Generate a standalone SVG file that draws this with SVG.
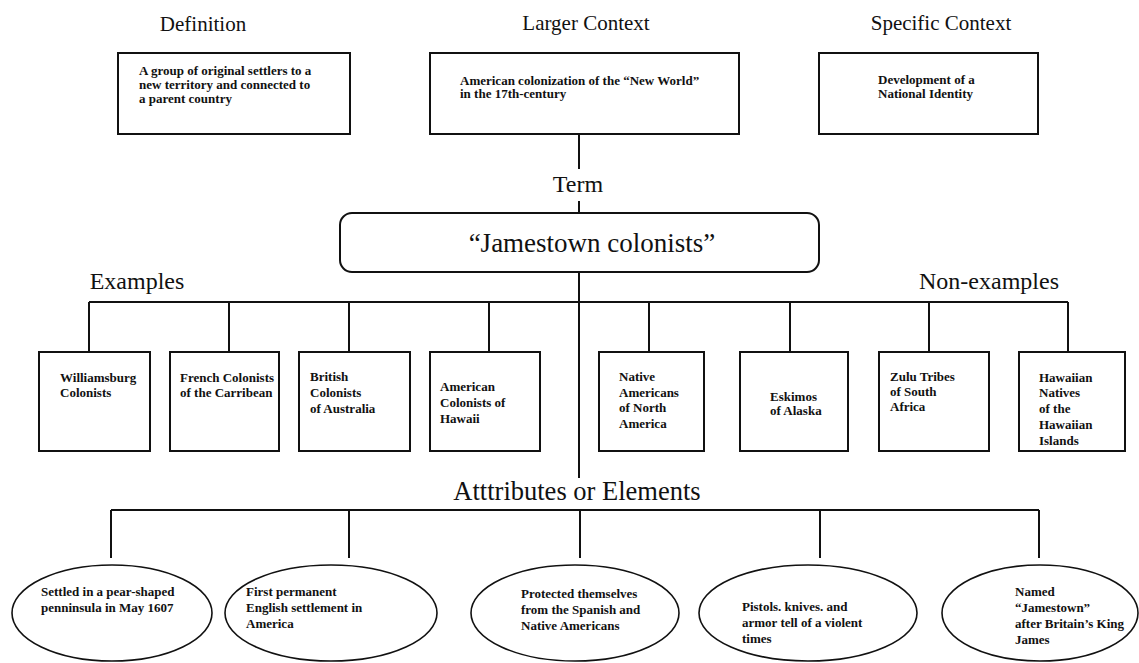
<svg xmlns="http://www.w3.org/2000/svg" width="1139" height="663" viewBox="0 0 1139 663">
<style>
.h{font-family:"Liberation Serif","Times New Roman",serif;fill:#111;text-anchor:middle}
.s{font-family:"Liberation Serif","Times New Roman",serif;font-weight:bold;font-size:13px;fill:#111}
.box{fill:#fff;stroke:#111;stroke-width:2}
.ell{fill:#fff;stroke:#111;stroke-width:1.6}
.ln{fill:none;stroke:#111;stroke-width:2}
</style>
<rect width="1139" height="663" fill="#fff"/>
<g id="connectors">
<path class="ln" d="M579 134V169M579 201V213M579 272V478M89 302H1068M89 302V352M229 302V352M349 302V352M489 302V352M649 302V352M790 302V352M929 302V352M1068 302V352M111 510H1039M111 510V558M349 510V558M580 510V558M820 510V558M1039 510V558"/>
</g>
<g id="labels">
<text class="h" x="203" y="31" font-size="21">Definition</text>
<text class="h" x="586" y="30" font-size="21">Larger Context</text>
<text class="h" x="941" y="30" font-size="21">Specific Context</text>
<text class="h" x="578" y="192" font-size="24">Term</text>
<text class="h" x="137" y="289" font-size="24">Examples</text>
<text class="h" x="989" y="289" font-size="24">Non-examples</text>
<text class="h" x="577" y="500" font-size="26.5">Atttributes or Elements</text>
</g>
<g id="definition">
<rect class="box" x="118" y="53" width="232" height="81"/>
<text class="s" x="139" y="75">A group of original settlers to a</text>
<text class="s" x="139" y="89">new territory and connected to</text>
<text class="s" x="139" y="103">a parent country</text>
</g>
<g id="larger-context">
<rect class="box" x="430" y="53" width="309" height="81"/>
<text class="s" x="460" y="85">American colonization of the “New World”</text>
<text class="s" x="460" y="98">in the 17th-century</text>
</g>
<g id="specific-context">
<rect class="box" x="819" y="53" width="219" height="81"/>
<text class="s" x="878" y="84">Development of a</text>
<text class="s" x="878" y="98">National Identity</text>
</g>
<g id="term">
<rect class="box" x="340" y="213" width="479" height="59" rx="12"/>
<text class="h" x="592" y="252" font-size="27">“Jamestown colonists”</text>
</g>
<g id="ex1"><rect class="box" x="39" y="352" width="111" height="99"/>
<text class="s" x="60" y="382">Williamsburg</text><text class="s" x="60" y="397">Colonists</text></g>
<g id="ex2"><rect class="box" x="170" y="352" width="109" height="99"/>
<text class="s" x="180" y="382">French Colonists</text><text class="s" x="180" y="397">of the Carribean</text></g>
<g id="ex3"><rect class="box" x="299" y="352" width="111" height="99"/>
<text class="s" x="310" y="381">British</text><text class="s" x="310" y="397">Colonists</text><text class="s" x="310" y="413">of Australia</text></g>
<g id="ex4"><rect class="box" x="430" y="352" width="110" height="99"/>
<text class="s" x="440" y="391">American</text><text class="s" x="440" y="407">Colonists of</text><text class="s" x="440" y="423">Hawaii</text></g>
<g id="nex1"><rect class="box" x="599" y="352" width="105" height="99"/>
<text class="s" x="619" y="381">Native</text><text class="s" x="619" y="397">Americans</text><text class="s" x="619" y="412">of North</text><text class="s" x="619" y="428">America</text></g>
<g id="nex2"><rect class="box" x="740" y="352" width="108" height="99"/>
<text class="s" x="770" y="401">Eskimos</text><text class="s" x="770" y="415">of Alaska</text></g>
<g id="nex3"><rect class="box" x="879" y="352" width="110" height="99"/>
<text class="s" x="890" y="381">Zulu Tribes</text><text class="s" x="890" y="396">of South</text><text class="s" x="890" y="411">Africa</text></g>
<g id="nex4"><rect class="box" x="1019" y="352" width="106" height="99"/>
<text class="s" x="1039" y="382">Hawaiian</text><text class="s" x="1039" y="397">Natives</text><text class="s" x="1039" y="413">of the</text><text class="s" x="1039" y="429">Hawaiian</text><text class="s" x="1039" y="445">Islands</text></g>
<g id="attr1"><ellipse class="ell" cx="112" cy="613" rx="100" ry="48"/>
<text class="s" x="41" y="596">Settled in a pear-shaped</text><text class="s" x="41" y="612">penninsula in May 1607</text></g>
<g id="attr2"><ellipse class="ell" cx="331" cy="613" rx="106" ry="48"/>
<text class="s" x="246" y="596">First permanent</text><text class="s" x="246" y="612">English settlement in</text><text class="s" x="246" y="628">America</text></g>
<g id="attr3"><ellipse class="ell" cx="575" cy="613" rx="104" ry="48"/>
<text class="s" x="521" y="598">Protected themselves</text><text class="s" x="521" y="614">from the Spanish and</text><text class="s" x="521" y="630">Native Americans</text></g>
<g id="attr4"><ellipse class="ell" cx="808" cy="613" rx="109" ry="48"/>
<text class="s" x="742" y="611">Pistols. knives. and</text><text class="s" x="742" y="627">armor tell of a violent</text><text class="s" x="742" y="643">times</text></g>
<g id="attr5"><ellipse class="ell" cx="1040" cy="613" rx="98" ry="48"/>
<text class="s" x="1015" y="596">Named</text><text class="s" x="1015" y="612">“Jamestown”</text><text class="s" x="1015" y="628">after Britain’s King</text><text class="s" x="1015" y="644">James</text></g>
</svg>
